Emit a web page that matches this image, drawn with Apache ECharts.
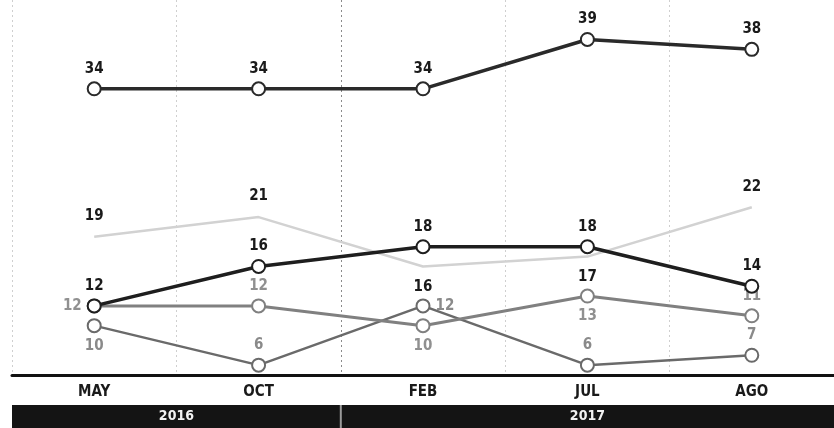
<!DOCTYPE html>
<html>
<head>
<meta charset="utf-8">
<script src="https://cdn.jsdelivr.net/npm/echarts@6/dist/echarts.min.js"></script>
<style>
  html, body { margin: 0; padding: 0; background: #fff; }
  #chart { width: 834px; height: 428px; }
</style>
</head>
<body>
<div id="chart"></div>
<script>
// categories
const months = ['MAY', 'OCT', 'FEB', 'JUL', 'AGO'];
// series values
const topLine = [34, 34, 34, 39, 38];
const darkLine = [12, 16, 18, 18, 14];
const lightLine = [19, 21, 16, 17, 22];
const midLine = [12, 12, 10, 13, 11];
const lowLine = [10, 6, 12, 6, 7];
// year band under the axis
const years = ['2016', '2017'];
const yearMonths = [2, 3];

// label placement per point (newspaper style)
const lightPos = ['top', 'top', 'bottom', 'bottom', 'top'];
const midPos = ['left', 'top', 'bottom', 'bottom', 'top'];
const lowPos = ['bottom', 'top', 'right', 'top', 'top'];

const FONT = "'Liberation Sans Narrow', 'DejaVu Sans Condensed', sans-serif";

const chart = echarts.init(document.getElementById('chart'), null, { renderer: 'canvas' });

function withPos(values, pos) {
  return values.map((v, i) => ({ value: v, label: { position: pos[i] } }));
}

function markerLine(name, values, color, width, labelColor, z) {
  return {
    name: name,
    type: 'line',
    xAxisIndex: 0,
    yAxisIndex: 0,
    data: values,
    z: z,
    symbol: 'circle',
    symbolSize: 13,
    lineStyle: { color: color, width: width },
    itemStyle: { color: '#fff', borderColor: color, borderWidth: 2 },
    label: {
      show: true,
      position: 'top',
      distance: 5,
      color: labelColor,
      fontFamily: FONT,
      fontWeight: 'bold',
      fontSize: 15
    },
    emphasis: { disabled: true },
    animation: false
  };
}

const option = {
  backgroundColor: '#fff',
  grid: [
    { left: 12, right: -3, top: 0, bottom: 53 },
    { left: 12, right: -3, top: 405, height: 23 }
  ],
  xAxis: [
    {
      type: 'category',
      gridIndex: 0,
      data: months,
      boundaryGap: true,
      axisLine: { lineStyle: { color: '#111', width: 3 } },
      axisTick: { show: false },
      axisLabel: {
        color: '#1a1a1a',
        fontFamily: FONT,
        fontWeight: 'bold',
        fontSize: 15,
        margin: 10
      },
      splitLine: {
        show: true,
        lineStyle: {
          color: ['#cfcfcf', '#cfcfcf', '#8a8a8a', '#cfcfcf', '#cfcfcf', '#cfcfcf'],
          type: [2, 3],
          width: 1
        }
      }
    },
    {
      type: 'value',
      gridIndex: 1,
      min: 0,
      max: 5,
      show: false
    }
  ],
  yAxis: [
    {
      type: 'value',
      gridIndex: 0,
      min: 5,
      max: 43,
      show: false,
      splitLine: { show: false }
    },
    {
      type: 'category',
      gridIndex: 1,
      data: ['year'],
      show: false
    }
  ],
  series: [
    {
      name: 'light',
      type: 'line',
      data: withPos(lightLine, lightPos),
      z: 1,
      symbol: 'circle',
      symbolSize: 2,
      showSymbol: true,
      itemStyle: { color: 'rgba(0,0,0,0)' },
      lineStyle: { color: '#d2d2d2', width: 2.5 },
      label: {
        show: true,
        distance: 12,
        color: '#1a1a1a',
        fontFamily: FONT,
        fontWeight: 'bold',
        fontSize: 15
      },
      emphasis: { disabled: true },
      animation: false
    },
    markerLine('low', withPos(lowLine, lowPos), '#6a6a6a', 2.5, '#8a8a8a', 2),
    markerLine('mid', withPos(midLine, midPos), '#808080', 3, '#909090', 3),
    markerLine('top', topLine, '#2a2a2a', 3.5, '#1a1a1a', 4),
    markerLine('dark', darkLine, '#1e1e1e', 3.5, '#1a1a1a', 5)
  ].concat(years.map((y, i) => ({
    name: y,
    type: 'bar',
    xAxisIndex: 1,
    yAxisIndex: 1,
    stack: 'years',
    barWidth: '100%',
    data: [yearMonths[i]],
    itemStyle: { color: '#141414' },
    label: {
      show: true,
      position: 'inside',
      formatter: '{a}',
      color: '#f2f2f2',
      fontFamily: FONT,
      fontWeight: 'bold',
      fontSize: 14
    },
    emphasis: { disabled: true },
    animation: false
  })))
};

chart.setOption(option);

// divider between the two years, taken from the year axis
const splitX = chart.convertToPixel({ xAxisIndex: 1 }, yearMonths[0]);
chart.setOption({
  graphic: [{
    type: 'rect',
    shape: { x: splitX - 1, y: 405, width: 2, height: 23 },
    style: { fill: '#9a9a9a' },
    z: 100
  }]
});
</script>
</body>
</html>
